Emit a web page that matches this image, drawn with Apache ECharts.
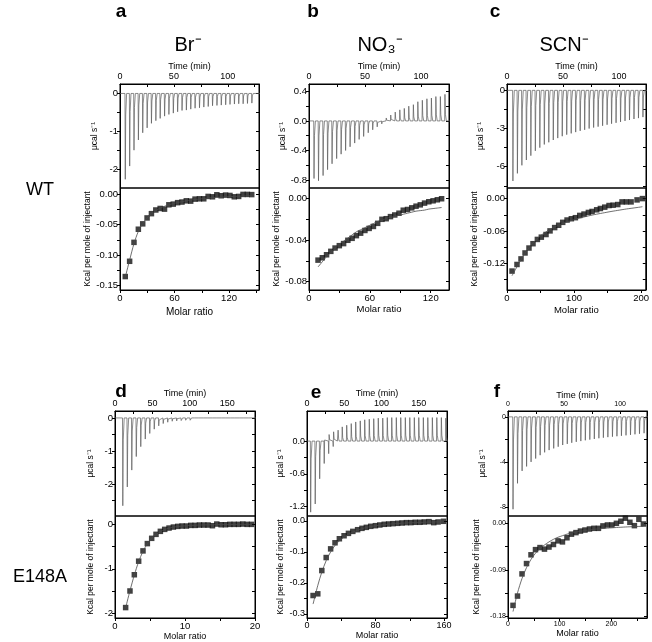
<!DOCTYPE html>
<html><head><meta charset="utf-8">
<script src="https://cdn.jsdelivr.net/npm/echarts@6/dist/echarts.min.js"></script>
<style>html,body{margin:0;padding:0;background:#fff}#c{width:652px;height:642px}</style>
</head><body><div id="c"></div>
<script>
// ---------- DATA ----------
// Panel a (WT, Br-)
const aTime = [4.6,8.7,12.7,16.8,20.8,24.9,28.9,33.0,37.0,41.1,45.1,49.2,53.2,57.3,61.3,65.4,69.4,73.5,77.5,81.6,85.6,89.7,93.7,97.8,101.8,105.9,109.9,114.0,118.0,122.1];
const aPeak = [-2.27,-1.92,-1.50,-1.23,-1.04,-0.91,-0.79,-0.72,-0.66,-0.60,-0.555,-0.52,-0.485,-0.45,-0.44,-0.415,-0.39,-0.38,-0.36,-0.345,-0.325,-0.317,-0.308,-0.30,-0.29,-0.28,-0.273,-0.273,-0.265,-0.255];
const aRatio = [5.8,10.6,15.4,20.2,25.0,29.8,34.6,39.4,44.2,49.0,53.8,58.6,63.4,68.2,73.0,77.8,82.6,87.4,92.2,97.0,101.8,106.6,111.4,116.2,121.0,125.8,130.6,135.4,140.2,145.0];
const aHeat = [-0.135,-0.110,-0.079,-0.0575,-0.0487,-0.039,-0.032,-0.026,-0.0235,-0.0246,-0.0175,-0.0164,-0.014,-0.013,-0.011,-0.0115,-0.0082,-0.0077,-0.0077,-0.0038,-0.0044,-0.0011,-0.0027,-0.0016,-0.0022,-0.0044,-0.0038,-0.0005,-0.0005,-0.0008];
const aFit = [-0.136,-0.108,-0.081,-0.061,-0.048,-0.039,-0.032,-0.027,-0.023,-0.020,-0.0175,-0.0155,-0.0138,-0.0123,-0.011,-0.0099,-0.0089,-0.008,-0.0072,-0.0065,-0.0059,-0.0054,-0.0049,-0.0045,-0.0041,-0.0038,-0.0035,-0.0032,-0.003,-0.0028];

// Panel b (WT, NO3-)
const bTime = [4.2,8.2,12.3,16.3,20.3,24.4,28.4,32.4,36.4,40.5,44.5,48.5,52.6,56.6,60.6,64.7,68.7,72.7,76.7,80.8,84.8,88.8,92.9,96.9,100.9,105.0,109.0,113.0,117.0,121.1];
const bPeak = [-0.78,-0.81,-0.74,-0.66,-0.58,-0.51,-0.45,-0.40,-0.35,-0.30,-0.25,-0.21,-0.16,-0.12,-0.08,-0.04,0.04,0.08,0.12,0.15,0.17,0.20,0.22,0.26,0.28,0.30,0.31,0.33,0.33,0.36];
const bRatio = [8.9,13.1,17.3,21.5,25.7,29.9,34.1,38.3,42.5,46.7,50.9,55.1,59.3,63.5,67.7,71.9,76.1,80.3,84.5,88.7,92.9,97.1,101.3,105.5,109.7,113.9,118.1,122.3,126.5,130.7];
const bHeat = [-0.0594,-0.0571,-0.0542,-0.0509,-0.0477,-0.0454,-0.0434,-0.0402,-0.0383,-0.0357,-0.0333,-0.0307,-0.0287,-0.0268,-0.0238,-0.0199,-0.0193,-0.0173,-0.0157,-0.0140,-0.0111,-0.0104,-0.0088,-0.0072,-0.0059,-0.0042,-0.0029,-0.0020,-0.0010,0.0000];
const bFit = [-0.066,-0.061,-0.056,-0.052,-0.048,-0.044,-0.041,-0.038,-0.035,-0.032,-0.030,-0.028,-0.026,-0.024,-0.022,-0.021,-0.019,-0.018,-0.017,-0.016,-0.015,-0.014,-0.013,-0.012,-0.0115,-0.011,-0.010,-0.0095,-0.009,-0.0085];

// Panel c (WT, SCN-)
const cTime = [5,9,13,17,21,25,29,33,37,41,45,49,53,57,61,65,69,73,77,81,85,89,93,97,101,105,109,113,117,121];
const cPeak = [-7.12,-6.52,-5.89,-5.47,-5.13,-4.75,-4.5,-4.25,-4.08,-3.9,-3.75,-3.6,-3.48,-3.38,-3.28,-3.18,-3.1,-3.0,-2.92,-2.85,-2.78,-2.7,-2.62,-2.55,-2.48,-2.4,-2.33,-2.25,-2.18,-2.1];
const cRatio = [7.5,14.9,20.9,26.9,32.8,38.8,45.3,51.2,58.2,64.2,71.1,77.1,83.1,89.6,96.0,102.0,108.5,114.9,121.4,126.9,133.8,139.3,145.8,152.2,158.2,165.2,171.6,178.1,185.1,194.0,202.0];
const cHeat = [-0.134,-0.1218,-0.1115,-0.1005,-0.0914,-0.0834,-0.0755,-0.0713,-0.0664,-0.0597,-0.0536,-0.0493,-0.0439,-0.0396,-0.0372,-0.0353,-0.0311,-0.0286,-0.0256,-0.0238,-0.0207,-0.0183,-0.0158,-0.0128,-0.0122,-0.011,-0.0061,-0.0061,-0.0061,-0.0024,0.0];
const cFit = [-0.1426,-0.126,-0.113,-0.101,-0.091,-0.082,-0.074,-0.0675,-0.0615,-0.057,-0.0525,-0.049,-0.046,-0.043,-0.0405,-0.038,-0.036,-0.034,-0.032,-0.0305,-0.0288,-0.0275,-0.026,-0.0245,-0.0232,-0.0218,-0.0205,-0.0192,-0.018,-0.0165,-0.015];

// Panel d (E148A, Br-)
const dTime = [10,16,22,28,34,40,46,52,58,64,70,76,82,88,94,100,106,112,118,124,130,136,142,148,154,160,166,172,178,184];
const dPeak = [-2.66,-2.09,-1.58,-1.17,-0.87,-0.64,-0.47,-0.34,-0.24,-0.17,-0.13,-0.10,-0.09,-0.08,-0.07,-0.07,-0.06,-0.06,-0.06,-0.05,-0.05,-0.05,-0.05,-0.05,-0.05,-0.05,-0.05,-0.05,-0.05,-0.05];
const dRatio = [1.52,2.14,2.76,3.38,4.00,4.62,5.24,5.86,6.48,7.10,7.72,8.34,8.96,9.58,10.20,10.82,11.44,12.06,12.68,13.30,13.92,14.54,15.16,15.78,16.40,17.02,17.64,18.26,18.88,19.50];
const dHeat = [-1.867,-1.496,-1.133,-0.83,-0.60,-0.437,-0.319,-0.23,-0.163,-0.119,-0.089,-0.067,-0.052,-0.044,-0.044,-0.030,-0.030,-0.022,-0.022,-0.022,-0.037,0.0,-0.015,-0.015,-0.007,-0.007,-0.007,0.0,-0.007,-0.007];
const dFit = [-1.87,-1.49,-1.14,-0.84,-0.61,-0.44,-0.32,-0.235,-0.17,-0.125,-0.093,-0.07,-0.055,-0.045,-0.037,-0.031,-0.026,-0.022,-0.019,-0.017,-0.015,-0.013,-0.012,-0.011,-0.010,-0.009,-0.008,-0.008,-0.007,-0.007];

// Panel e (E148A, NO3-) : biphasic peaks
const eTime = [4.5,10.6,16.6,22.7,28.7,34.8,40.8,46.9,52.9,59.0,65.0,71.1,77.1,83.2,89.2,95.3,101.3,107.4,113.4,119.5,125.5,131.6,137.6,143.7,149.7,155.8,161.8,167.9,173.9,180.0,186.0];
const eNeg = [-1.30,-1.15,-0.69,-0.41,-0.23,-0.10,-0.03,0,0,0,0,0,0,0,0,0,0,0,0,0,0,0,0,0,0,0,0,0,0,0,0];
const ePos = [0,0,0,0.02,0.12,0.17,0.20,0.26,0.29,0.32,0.35,0.37,0.39,0.40,0.41,0.42,0.42,0.43,0.43,0.43,0.43,0.43,0.43,0.43,0.43,0.43,0.43,0.43,0.43,0.43,0.42];
const eRatio = [7.1,12.6,17.3,22.4,27.6,32.7,37.8,43.3,48.4,53.5,59.1,64.2,69.3,74.4,79.9,85.0,90.2,95.3,100.4,105.9,111.0,116.1,121.3,126.4,131.9,137.0,142.5,148.0,153.1,159.4];
const eHeat = [-0.2405,-0.235,-0.160,-0.118,-0.090,-0.0704,-0.0574,-0.0477,-0.040,-0.0336,-0.0282,-0.0238,-0.0206,-0.0173,-0.0152,-0.013,-0.0108,-0.0098,-0.0087,-0.0076,-0.0065,-0.0054,-0.0054,-0.0043,-0.0043,-0.0033,-0.0022,-0.0054,-0.0033,-0.0011];
const eFit = [-0.268,-0.208,-0.165,-0.128,-0.100,-0.079,-0.064,-0.052,-0.043,-0.036,-0.030,-0.025,-0.021,-0.018,-0.0155,-0.0135,-0.012,-0.0105,-0.0093,-0.0082,-0.0073,-0.0065,-0.0058,-0.0052,-0.0047,-0.0042,-0.0038,-0.0034,-0.0031,-0.0028];

// Panel f (E148A, SCN-)
const fTime = [4.2,8.2,12.3,16.3,20.3,24.4,28.4,32.4,36.4,40.5,44.5,48.5,52.6,56.6,60.6,64.7,68.7,72.7,76.7,80.8,84.8,88.8,92.9,96.9,100.9,105.0,109.0,113.0,117.0,121.1];
const fPeak = [-8.2,-5.9,-4.8,-4.4,-4.0,-3.7,-3.4,-3.15,-2.95,-2.8,-2.65,-2.5,-2.4,-2.3,-2.22,-2.15,-2.08,-2.02,-1.96,-1.9,-1.85,-1.8,-1.76,-1.72,-1.68,-1.64,-1.6,-1.55,-1.5,-1.45];
const fRatio = [9.7,18.4,27.1,35.8,44.5,53.2,61.9,70.6,79.3,88.0,96.7,105.4,114.1,122.8,131.5,140.2,148.9,157.6,166.3,175.0,183.7,192.4,201.1,209.8,218.5,227.2,235.9,244.6,253.3,262.0];
const fHeat = [-0.159,-0.141,-0.098,-0.078,-0.061,-0.051,-0.047,-0.050,-0.046,-0.041,-0.034,-0.036,-0.028,-0.021,-0.018,-0.015,-0.013,-0.011,-0.0097,-0.0097,-0.005,-0.0032,-0.0032,0.000,0.004,0.010,0.002,-0.0045,0.0078,-0.0013];
const fFit = [-0.171,-0.135,-0.107,-0.086,-0.070,-0.058,-0.049,-0.042,-0.036,-0.031,-0.027,-0.024,-0.021,-0.019,-0.017,-0.0155,-0.014,-0.0128,-0.0117,-0.0108,-0.010,-0.0093,-0.0087,-0.0081,-0.0076,-0.0071,-0.0067,-0.0063,-0.006,-0.0057];

// ---------- LAYOUT ----------
const FONT = 'Liberation Sans, Arial, Helvetica, sans-serif';
const panels = [
  {L:120,R:259,T:84,M:188,B:290, tMax:129, tLab:[0,50,100], tTick:[0,25,50,75,100,125],
   hMin:-2.5,hMax:0.25,hLab:[0,-1,-2],hTick:[0,-0.5,-1,-1.5,-2],hDec:0,
   rMax:153,rLab:[0,60,120],rTick:[0,30,60,90,120,150],
   iMin:-0.157,iMax:0.01,iLab:[0,-0.05,-0.1,-0.15],iTick:[0,-0.025,-0.05,-0.075,-0.1,-0.125,-0.15],iDec:2,
   fs:9.5, tfs:9, mfs:10, uGap:21, kGap:24, tGap:12, rGap:17,
   thermo:()=>spikes(aTime,aPeak), x:aRatio, y:aHeat, fit:aFit},
  {L:309,R:449,T:84,M:188,B:290, tMax:125, tLab:[0,50,100], tTick:[0,25,50,75,100,125],
   hMin:-0.908,hMax:0.5,hLab:[0.4,0,-0.4,-0.8],hTick:[0.4,0.2,0,-0.2,-0.4,-0.6,-0.8],hDec:1,
   rMax:138,rLab:[0,60,120],rTick:[0,30,60,90,120],
   iMin:-0.0883,iMax:0.0104,iLab:[0,-0.04,-0.08],iTick:[0,-0.02,-0.04,-0.06,-0.08],iDec:2,
   fs:9.5, tfs:9, mfs:9.5, uGap:20, kGap:24, tGap:12, rGap:11,
   thermo:()=>spikes(bTime,bPeak), x:bRatio, y:bHeat, fit:bFit},
  {L:507,R:646,T:84,M:188,B:290, tMax:124, tLab:[0,50,100], tTick:[0,25,50,75,100],
   hMin:-7.67,hMax:0.5,hLab:[0,-3,-6],hTick:[0,-1.5,-3,-4.5,-6,-7.5],hDec:0,
   rMax:207,rLab:[0,100,200],rTick:[0,50,100,150,200],
   iMin:-0.169,iMax:0.0196,iLab:[0,-0.06,-0.12],iTick:[0,-0.03,-0.06,-0.09,-0.12,-0.15],iDec:2,
   fs:9.5, tfs:9, mfs:9.5, uGap:22, kGap:27, tGap:12, rGap:15,
   thermo:()=>spikes(cTime,cPeak), x:cRatio, y:cHeat, fit:cFit},
  {L:115,R:255,T:411,M:516,B:618, tMax:187, tLab:[0,50,100,150], tTick:[0,25,50,75,100,125,150,175],
   hMin:-2.97,hMax:0.21,hLab:[0,-1,-2],hTick:[0,-0.5,-1,-1.5,-2,-2.5],hDec:0,
   rMax:20,rLab:[0,10,20],rTick:[0,5,10,15,20],
   iMin:-2.1,iMax:0.18,iLab:[0,-1,-2],iTick:[0,-0.5,-1,-1.5,-2],iDec:0,
   fs:9.5, tfs:9, mfs:9, uGap:20, kGap:20, tGap:11, rGap:10,
   thermo:()=>spikes(dTime,dPeak), x:dRatio, y:dHeat, fit:dFit},
  {L:307,R:447,T:411,M:516,B:618, tMax:188, tLab:[0,50,100,150], tTick:[0,25,50,75,100,125,150,175],
   hMin:-1.37,hMax:0.55,hLab:[0,-0.6,-1.2],hTick:[0,-0.3,-0.6,-0.9,-1.2],hDec:1,
   rMax:163.5,rLab:[0,80,160],rTick:[0,40,80,120,160],
   iMin:-0.313,iMax:0.016,iLab:[0,-0.1,-0.2,-0.3],iTick:[0,-0.05,-0.1,-0.15,-0.2,-0.25,-0.3],iDec:1,
   fs:9, tfs:9, mfs:9, uGap:19, kGap:19, tGap:11, rGap:11,
   thermo:()=>spikes(eTime,eNeg,ePos), x:eRatio, y:eHeat, fit:eFit},
  {L:508,R:647,T:411,M:516,B:618, tMax:124, tLab:[0,50,100], tTick:[0,25,50,75,100],
   hMin:-8.8,hMax:0.52,hLab:[0,-4,-8],hTick:[0,-2,-4,-6,-8],hDec:0,
   rMax:269,rLab:[0,100,200],rTick:[0,50,100,150,200,250],
   iMin:-0.1835,iMax:0.0142,iLab:[0,-0.09,-0.18],iTick:[0,-0.045,-0.09,-0.135,-0.18],iDec:2,
   fs:7, tfs:7, mfs:9, uGap:21, kGap:27, tGap:10, rGap:10,
   thermo:()=>spikes(fTime,fPeak), x:fRatio, y:fHeat, fit:fFit}
];

// build injection-peak traces from the peak values
function spikes(times, lo, hi) {
  const out = [[0, 0]];
  for (let i = 0; i < times.length; i++) {
    const t = times[i];
    const dt = i + 1 < times.length ? times[i + 1] - t : t - times[i - 1];
    const a = lo ? lo[i] : 0, b = hi ? hi[i] : 0;
    out.push([t, 0]);
    if (a && b) {
      out.push([t + 0.07 * dt, a], [t + 0.16 * dt, b], [t + 0.28 * dt, b * 0.2], [t + 0.4 * dt, 0]);
    } else {
      const p = a || b;
      out.push([t + 0.07 * dt, p], [t + 0.17 * dt, p * 0.25], [t + 0.38 * dt, 0]);
    }
  }
  out.push([times[times.length - 1] + 8, 0]);
  return out;
}
const zip = (xs, ys) => xs.map((x, i) => [x, ys[i]]);

// ---------- OPTION ----------
const grid = [], xAxis = [], yAxis = [], series = [];
const blk = { color: '#000', width: 1 };
function fmt(dec) { return v => Number(v).toFixed(dec); }

panels.forEach(p => {
  const lab = { color: '#000', fontSize: p.fs, fontFamily: FONT };
  const tlab = { color: '#000', fontSize: p.tfs, fontFamily: FONT };
  const nm = { color: '#000', fontSize: p.mfs, fontFamily: FONT };
  const tnm = { color: '#000', fontSize: 9, fontFamily: FONT };
  const ynm = { color: '#000', fontSize: 8.5, fontFamily: FONT };
  // top grid (thermogram)
  const g1 = grid.length;
  grid.push({ left: p.L, top: p.T, width: p.R - p.L, height: p.M - p.T, show: true, borderColor: '#000', borderWidth: 1 });
  const x1 = xAxis.length;
  xAxis.push({ type: 'value', gridIndex: g1, position: 'top', min: 0, max: p.tMax,
    name: 'Time (min)', nameLocation: 'middle', nameGap: p.tGap, nameTextStyle: tnm,
    axisLine: { show: true, onZero: false, lineStyle: blk },
    axisTick: { show: true, inside: true, length: 3, customValues: p.tTick, lineStyle: blk },
    axisLabel: { show: true, customValues: p.tLab, margin: 3, ...tlab },
    splitLine: { show: false } });
  const y1 = yAxis.length;
  yAxis.push({ type: 'value', gridIndex: g1, position: 'left', min: p.hMin, max: p.hMax,
    name: 'μcal s⁻¹', nameLocation: 'middle', nameRotate: 90, nameGap: p.uGap, nameTextStyle: ynm,
    axisLine: { show: true, onZero: false, lineStyle: blk },
    axisTick: { show: true, inside: false, length: 3, customValues: p.hTick, lineStyle: blk },
    axisLabel: { show: true, customValues: p.hLab, margin: 2, formatter: fmt(p.hDec), ...lab },
    splitLine: { show: false } });
  yAxis.push({ type: 'value', gridIndex: g1, position: 'right', min: p.hMin, max: p.hMax,
    axisLine: { show: true, onZero: false, lineStyle: blk },
    axisTick: { show: true, inside: true, length: 3, customValues: p.hTick, lineStyle: blk },
    axisLabel: { show: false }, splitLine: { show: false } });
  series.push({ type: 'line', xAxisIndex: x1, yAxisIndex: y1, data: p.thermo(), symbol: 'none',
    lineStyle: { color: '#5a5a5a', width: 0.7 }, clip: true, animation: false, silent: true });

  // bottom grid (isotherm)
  const g2 = grid.length;
  grid.push({ left: p.L, top: p.M, width: p.R - p.L, height: p.B - p.M, show: true, borderColor: '#000', borderWidth: 1 });
  const x2 = xAxis.length;
  xAxis.push({ type: 'value', gridIndex: g2, position: 'bottom', min: 0, max: p.rMax,
    name: 'Molar ratio', nameLocation: 'middle', nameGap: p.rGap, nameTextStyle: nm,
    axisLine: { show: true, onZero: false, lineStyle: blk },
    axisTick: { show: true, inside: false, length: 3, customValues: p.rTick, lineStyle: blk },
    axisLabel: { show: true, customValues: p.rLab, margin: 3, ...lab },
    splitLine: { show: false } });
  const y2 = yAxis.length;
  yAxis.push({ type: 'value', gridIndex: g2, position: 'left', min: p.iMin, max: p.iMax,
    name: 'Kcal per mole of injectant', nameLocation: 'middle', nameRotate: 90, nameGap: p.kGap, nameTextStyle: ynm,
    axisLine: { show: true, onZero: false, lineStyle: blk },
    axisTick: { show: true, inside: false, length: 3, customValues: p.iTick, lineStyle: blk },
    axisLabel: { show: true, customValues: p.iLab, margin: 2, formatter: fmt(p.iDec), ...lab },
    splitLine: { show: false } });
  yAxis.push({ type: 'value', gridIndex: g2, position: 'right', min: p.iMin, max: p.iMax,
    axisLine: { show: true, onZero: false, lineStyle: blk },
    axisTick: { show: true, inside: true, length: 3, customValues: p.iTick, lineStyle: blk },
    axisLabel: { show: false }, splitLine: { show: false } });
  series.push({ type: 'line', xAxisIndex: x2, yAxisIndex: y2, data: zip(p.x, p.fit), symbol: 'none', smooth: 0.3,
    lineStyle: { color: '#4a4a4a', width: 0.8 }, clip: true, animation: false, silent: true });
  series.push({ type: 'scatter', xAxisIndex: x2, yAxisIndex: y2, data: zip(p.x, p.y), symbol: 'rect', symbolSize: 5.5,
    itemStyle: { color: '#111' }, clip: true, animation: false, silent: true });
});

const txt = (x, y, s, size, bold) => ({ type: 'text', x: x, y: y, silent: true,
  style: { text: s, fontSize: size, fontWeight: bold ? 'bold' : 'normal', fontFamily: FONT, fill: '#000', align: 'center', verticalAlign: 'middle' } });

const option = {
  animation: false,
  textStyle: { fontFamily: FONT },
  grid, xAxis, yAxis, series,
  graphic: [
    txt(121, 12, 'a', 19, true), txt(313, 12, 'b', 19, true), txt(495, 12, 'c', 19, true),
    txt(121, 392, 'd', 19, true), txt(316, 393, 'e', 19, true), txt(497, 392, 'f', 19, true),
    txt(188, 45, 'Br⁻', 20), txt(380, 45, 'NO₃⁻', 20), txt(564, 45, 'SCN⁻', 20),
    txt(40, 190, 'WT', 18), txt(40, 577, 'E148A', 18)
  ]
};
const chart = echarts.init(document.getElementById('c'), null, { renderer: 'canvas' });
chart.setOption(option);
</script></body></html>
